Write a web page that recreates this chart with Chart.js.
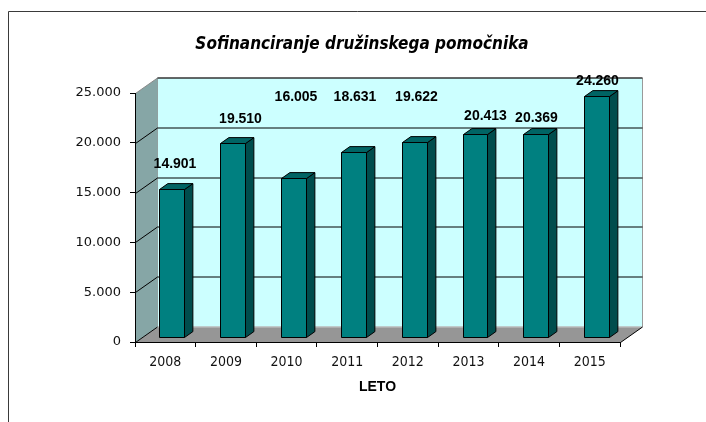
<!DOCTYPE html>
<html>
<head>
<meta charset="utf-8">
<script src="https://cdn.jsdelivr.net/npm/chart.js@4.4.1/dist/chart.umd.min.js"></script>
<style>
    html, body { margin: 0; padding: 0; background: #fff; }
    #wrap { width: 706px; height: 422px; }
</style>
</head>
<body>
<div id="wrap"><canvas id="chart" width="706" height="422"></canvas></div>
<script>
// --- DATA ---
const years = ['2008', '2009', '2010', '2011', '2012', '2013', '2014', '2015'];
const amounts = [14901, 19510, 16005, 18631, 19622, 20413, 20369, 24260];
const yTickValues = [0, 5000, 10000, 15000, 20000, 25000];
const chartTitle = 'Sofinanciranje družinskega pomočnika';
const xAxisTitle = 'LETO';

// labels were dragged by hand in the original, so nudge them (px)
const labelLift = [25, 24, 81, 55, 45, 18, 16.5, 15];
const labelShift = [3, 7.5, 2, 1, 1.5, 10, 0.5, 0.5];

// --- 3D LOOK ---
const DEPTH_X = 22, DEPTH_Y = -15.5;   // wall depth
const BAR_FRONT = 0.3, BAR_BACK = 0.68; // bar position inside the depth

function fmt(v) {
    return String(v).replace(/\B(?=(\d{3})+(?!\d))/g, '.');
}

function poly(ctx, pts, fill, stroke) {
    ctx.beginPath();
    ctx.moveTo(pts[0][0], pts[0][1]);
    for (let i = 1; i < pts.length; i++) ctx.lineTo(pts[i][0], pts[i][1]);
    ctx.closePath();
    if (fill) { ctx.fillStyle = fill; ctx.fill(); }
    if (stroke) { ctx.strokeStyle = stroke; ctx.lineWidth = 1; ctx.stroke(); }
}

function line(ctx, x1, y1, x2, y2, color) {
    ctx.beginPath();
    ctx.moveTo(x1, y1);
    ctx.lineTo(x2, y2);
    ctx.strokeStyle = color;
    ctx.lineWidth = 1;
    ctx.stroke();
}

const walls3d = {
    id: 'walls3d',
    beforeDraw(chart) {
        const ctx = chart.ctx;
        const a = chart.chartArea;
        const y = chart.scales.y;
        const L = a.left + 0.5, R = a.right + 0.5, B = a.bottom + 0.5, T = a.top + 0.5;
        const dx = DEPTH_X, dy = DEPTH_Y;

        ctx.save();
        ctx.fillStyle = '#fff';
        ctx.fillRect(0, 0, chart.width, chart.height);

        // outer frame
        line(ctx, 8.5, 11.5, 8.5, chart.height, '#3a3a3a');
        line(ctx, 8.5, 11.5, chart.width, 11.5, '#3a3a3a');

        // back wall, side wall, floor
        poly(ctx, [[L + dx, T + dy], [R + dx, T + dy], [R + dx, B + dy], [L + dx, B + dy]], '#ccffff', '#9a9a9a');
        poly(ctx, [[L, B], [L, T], [L + dx, T + dy], [L + dx, B + dy]], '#86a6a6', null);
        poly(ctx, [[L, B], [R, B], [R + dx, B + dy], [L + dx, B + dy]], '#969696', null);
        line(ctx, L, T, L + dx, T + dy, '#8a8a8a');
        line(ctx, L + dx, B + dy, R + dx, B + dy, '#c8c8c8');
        line(ctx, R, B, R + dx, B + dy, '#000');

        // grid lines on the walls
        yTickValues.forEach(v => {
            if (v === 0) return;
            const py = Math.round(y.getPixelForValue(v)) + 0.5;
            if (v !== yTickValues[yTickValues.length - 1]) line(ctx, L, py, L + dx, py + dy, '#000');
            line(ctx, L + dx, py + dy, R + dx, py + dy, '#000');
        });
        line(ctx, L, B, L + dx, B + dy, '#000');
        ctx.restore();
    },
    afterDatasetsDraw(chart) {
        const ctx = chart.ctx;
        const meta = chart.getDatasetMeta(0);
        const fdx = DEPTH_X * BAR_FRONT, fdy = DEPTH_Y * BAR_FRONT;
        const bdx = DEPTH_X * (BAR_BACK - BAR_FRONT), bdy = DEPTH_Y * (BAR_BACK - BAR_FRONT);

        ctx.save();
        meta.data.forEach((el, i) => {
            const w = el.width;
            const xl = Math.round(el.x - w / 2 + fdx) + 0.5;
            const xr = Math.round(el.x + w / 2 + fdx) + 0.5;
            const yt = Math.round(el.y + fdy) + 0.5;
            const yb = Math.round(el.base + fdy) + 0.5;

            poly(ctx, [[xr, yt], [xr + bdx, yt + bdy], [xr + bdx, yb + bdy], [xr, yb]], '#004d4d', '#000');
            poly(ctx, [[xl, yt], [xr, yt], [xr + bdx, yt + bdy], [xl + bdx, yt + bdy]], '#006464', '#000');
            poly(ctx, [[xl, yt], [xr, yt], [xr, yb], [xl, yb]], '#008080', '#000');

            ctx.fillStyle = '#000';
            ctx.font = 'bold 14px "Liberation Sans", Arial, sans-serif';
            ctx.textAlign = 'center';
            ctx.textBaseline = 'middle';
            ctx.fillText(fmt(amounts[i]), (xl + xr) / 2 + labelShift[i], yt - labelLift[i]);
        });
        ctx.restore();
    },
    afterDraw(chart) {
        const ctx = chart.ctx;
        ctx.save();
        ctx.fillStyle = '#000';
        ctx.font = 'italic bold 17px "DejaVu Sans Condensed", "DejaVu Sans", sans-serif';
        ctx.textAlign = 'center';
        ctx.textBaseline = 'alphabetic';
        ctx.fillText(chartTitle, 362, 49);
        ctx.restore();
    }
};

new Chart(document.getElementById('chart'), {
    type: 'bar',
    data: {
        labels: years,
        datasets: [{
            data: amounts,
            backgroundColor: 'rgba(0,0,0,0)',
            borderWidth: 0,
            barPercentage: 0.41,
            categoryPercentage: 1
        }]
    },
    options: {
        responsive: false,
        animation: false,
        devicePixelRatio: 1,
        layout: { padding: { top: 93, left: 18, right: 86, bottom: 0 } },
        plugins: {
            legend: { display: false },
            tooltip: { enabled: false },
            title: { display: false }
        },
        scales: {
            x: {
                afterFit: s => { s.height = 80; },
                grid: { drawOnChartArea: false, color: '#000', tickLength: 5 },
                border: { display: true, color: '#000' },
                ticks: {
                    color: '#111',
                    padding: 7,
                    font: { family: '"DejaVu Sans Condensed", "DejaVu Sans", sans-serif', size: 14 }
                },
                title: {
                    display: true,
                    text: xAxisTitle,
                    color: '#000',
                    padding: { top: 0, bottom: 26 },
                    font: { family: '"Liberation Sans", Arial, sans-serif', size: 14, weight: 'bold' }
                }
            },
            y: {
                min: 0,
                max: 25000,
                afterFit: s => { s.width = 117; },
                afterBuildTicks: s => { s.ticks = yTickValues.map(v => ({ value: v })); },
                grid: { drawOnChartArea: false, color: '#000', tickLength: 5 },
                border: { display: true, color: '#000' },
                ticks: {
                    color: '#111',
                    padding: 9,
                    font: { family: '"DejaVu Sans", sans-serif', size: 13 },
                    callback: v => fmt(v)
                }
            }
        }
    },
    plugins: [walls3d]
});
</script>
</body>
</html>
